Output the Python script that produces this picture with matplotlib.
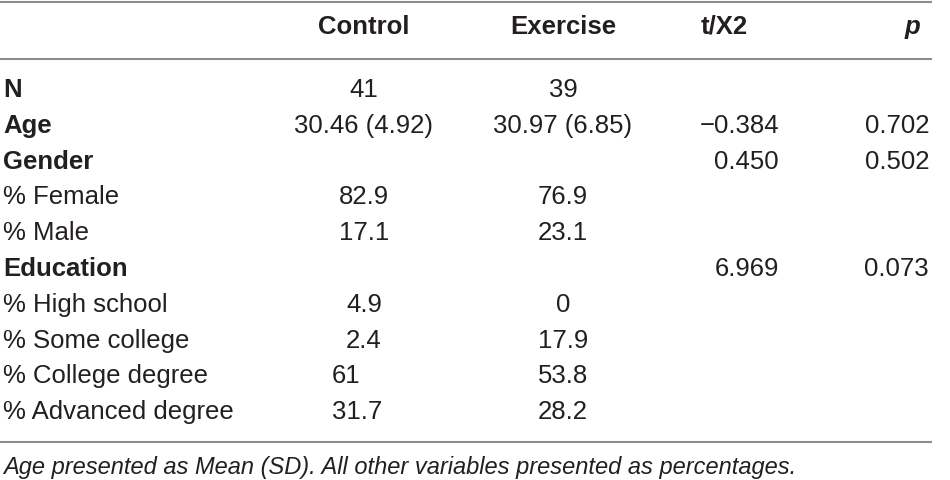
import matplotlib.pyplot as plt

# table content
row_labels = ["N", "Age", "Gender", "% Female", "% Male", "Education",
              "% High school", "% Some college", "% College degree", "% Advanced degree"]
bold_rows = ["N", "Age", "Gender", "Education"]
headers = ["Control", "Exercise", "t/X2", "p"]
control = ["41", "30.46 (4.92)", "", "82.9", "17.1", "", "4.9", "2.4", "61", "31.7"]
exercise = ["39", "30.97 (6.85)", "", "76.9", "23.1", "", "0", "17.9", "53.8", "28.2"]
t_x2 = ["", "\u22120.384", "0.450", "", "", "6.969", "", "", "", ""]
p_vals = ["", "0.702", "0.502", "", "", "0.073", "", "", "", ""]
note = "Age presented as Mean (SD). All other variables presented as percentages."

plt.rcParams['font.family'] = ['Liberation Sans', 'DejaVu Sans']
txt = '#231f20'
rule = '#8c8c8c'
fs = 18.5

fig = plt.figure(figsize=(9.5, 4.8), dpi=100)
ax = fig.add_axes([0, 0, 1, 1])
ax.set_xlim(0, 950)
ax.set_ylim(480, 0)
ax.axis('off')

# horizontal rules
for y in (1.5, 59, 442):
    ax.plot([0, 932], [y, y], color=rule, lw=1.5, solid_capstyle='butt')

# header row
head_x = [364, 563, 724, 912]
for h, x in zip(headers, head_x):
    ax.text(x, 34, h, ha='center', va='baseline', fontsize=fs, fontweight='bold',
            style='italic' if h == 'p' else 'normal', color=txt)

# body rows
y0, step = 97, 35.8
left_aligned_control = ["61", "31.7"]   # quirk of the source layout
for i, lab in enumerate(row_labels):
    y = y0 + i * step
    ax.text(3, y, lab, ha='left', va='baseline', fontsize=fs, color=txt,
            fontweight='bold' if lab in bold_rows else 'normal')
    c = control[i]
    if c in left_aligned_control and i >= 6:
        ax.text(332, y, c, ha='left', va='baseline', fontsize=fs, color=txt)
    else:
        ax.text(364, y, c, ha='center', va='baseline', fontsize=fs, color=txt)
    ax.text(563, y, exercise[i], ha='center', va='baseline', fontsize=fs, color=txt)
    ax.text(779, y, t_x2[i], ha='right', va='baseline', fontsize=fs, color=txt)
    ax.text(929, y, p_vals[i], ha='right', va='baseline', fontsize=fs, color=txt)

# footnote
ax.text(3, 474, note, ha='left', va='baseline', fontsize=17, style='italic', color=txt)

fig.savefig('out.png', dpi=100)
